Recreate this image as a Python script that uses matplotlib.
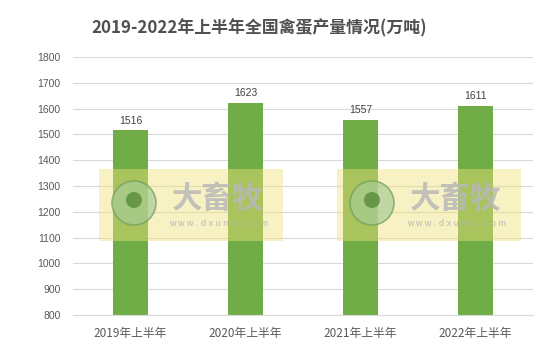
import matplotlib.pyplot as plt
from matplotlib.patches import Rectangle, Circle

plt.rcParams['font.family'] = ['Noto Sans CJK SC', 'DejaVu Sans']

categories = ["2019年上半年", "2020年上半年", "2021年上半年", "2022年上半年"]
values = [1516, 1623, 1557, 1611]
yticks = list(range(800, 1900, 100))

W, H = 559, 351
fig = plt.figure(figsize=(W / 100, H / 100), dpi=100)
ax = fig.add_axes([73 / W, 1 - 315 / H, 460 / W, 258 / H])

x = range(len(categories))
ax.bar(x, values, width=0.31, color='#70AD47', zorder=2)
for xi, v in zip(x, values):
    ax.text(xi, v + 18, str(v), ha='center', va='bottom', fontsize=7.5,
            color='#404040', family=['Liberation Sans', 'DejaVu Sans'])

ax.set_xlim(-0.5, len(categories) - 0.5)
ax.set_ylim(800, 1800)
ax.set_yticks(yticks)
ax.set_yticklabels([str(t) for t in yticks], fontsize=7.5, color='#595959',
                   family=['Liberation Sans', 'DejaVu Sans'])
ax.set_xticks(list(x))
ax.set_xticklabels(categories, fontsize=8.5, color='#595959')
ax.tick_params(axis='both', length=0)
ax.tick_params(axis='y', pad=9)
ax.tick_params(axis='x', pad=9)
ax.grid(axis='y', color='#D9D9D9', linewidth=0.8, zorder=0)
for s in ['top', 'right', 'left']:
    ax.spines[s].set_visible(False)
ax.spines['bottom'].set_color('#D9D9D9')

fig.text(259 / W, 1 - 28 / H, "2019-2022年上半年全国禽蛋产量情况(万吨)",
         ha='center', va='center', fontsize=12.2, fontweight='bold', color='#505050')

# watermark overlays
for x0 in (99, 337):
    fig.patches.append(Rectangle((x0 / W, 1 - 241 / H), 184 / W, 72 / H,
                                 transform=fig.transFigure, facecolor='#F0E27A',
                                 alpha=0.45, edgecolor='none', zorder=5))
    fig.patches.append(Circle((x0 + 35, H - 203), 22, transform=None,
                              facecolor='#A8CC96', edgecolor='#6E9D5A', linewidth=1.2,
                              alpha=0.7, zorder=6))
    fig.patches.append(Circle((x0 + 35, H - 200), 8, transform=None,
                              facecolor='#5E8F3E', edgecolor='none', alpha=0.85, zorder=7))
    fig.text((x0 + 119) / W, 1 - 199 / H, "大畜牧", ha='center', va='center',
             fontsize=22, fontweight='bold', color='#B8B8B8', alpha=0.85, zorder=8)
    fig.text((x0 + 119) / W, 1 - 223 / H, "w w w . d x u m u . c o m", ha='center',
             va='center', fontsize=6.5, color='#B0B0B0', alpha=0.85, zorder=8,
             family=['Liberation Sans', 'DejaVu Sans'])

fig.savefig("out.png", dpi=100)
